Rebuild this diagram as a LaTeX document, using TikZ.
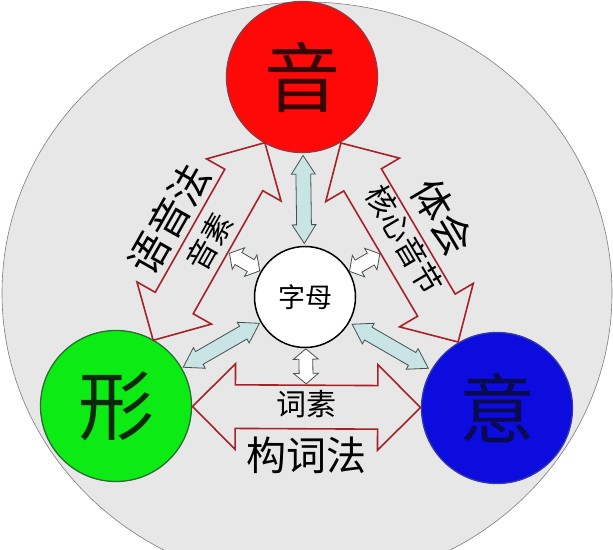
\documentclass[tikz,border=0pt]{standalone}
\usepackage{fontspec}
\setmainfont{Noto Sans CJK SC}
\usetikzlibrary{shapes.arrows,calc}

\definecolor{bgray}{RGB}{231,231,231}
\definecolor{rimgray}{RGB}{125,125,125}
\definecolor{yinred}{RGB}{255,8,8}
\definecolor{yinrim}{RGB}{150,55,65}
\definecolor{yintext}{RGB}{55,5,5}
\definecolor{xinggreen}{RGB}{12,236,20}
\definecolor{xingrim}{RGB}{40,110,50}
\definecolor{xingtext}{RGB}{10,40,10}
\definecolor{yiblue}{RGB}{12,12,222}
\definecolor{yirim}{RGB}{55,55,165}
\definecolor{yitext}{RGB}{10,10,80}
\definecolor{arrred}{RGB}{165,35,40}
\definecolor{lightcyan}{RGB}{200,228,228}
\definecolor{arrgray}{RGB}{70,80,80}

\begin{document}
\begin{tikzpicture}[x=1pt,y=1pt,
    vertex/.style={circle,minimum size=151pt,inner sep=0pt,line width=1.3pt,font=\fontsize{76}{80}\selectfont},
    hollowarr/.style={double arrow,draw=arrred,line width=1.6pt,fill=bgray,inner sep=0pt,
      text height=21pt,text depth=21pt,double arrow head extend=21pt,double arrow tip angle=90},
    linkarr/.style={double arrow,draw=arrgray,line width=0.8pt,fill=lightcyan,minimum height=88pt,inner sep=0pt,
      text height=7pt,text depth=7pt,double arrow head extend=4.5pt,double arrow tip angle=65},
    pointarr/.style={double arrow,draw=arrgray,line width=0.8pt,fill=white,minimum height=35pt,inner sep=0pt,
      text height=6.5pt,text depth=6.5pt,double arrow head extend=5.5pt,double arrow tip angle=100},
    biglab/.style={font=\fontsize{40}{40}\selectfont,inner sep=0pt},
    smalllab/.style={font=\fontsize{30}{30}\selectfont,inner sep=0pt}]

  \useasboundingbox (0,0) rectangle (613,549);
  \clip (0,0) rectangle (613,549);
  \fill[white] (0,0) rectangle (613,549);
  \draw[fill=bgray,draw=rimgray,line width=0.6pt] (307,256) ellipse [x radius=305,y radius=291];

  % the three corners and the centre
  \node[vertex,fill=yinred,draw=yinrim,text=yintext] (yin) at (302,472) {音};
  \node[vertex,fill=xinggreen,draw=xingrim,text=xingtext] (xing) at (116,143) {形};
  \node[vertex,fill=yiblue,draw=yirim,text=yitext] (yi) at (497,141) {意};
  \node[circle,draw,line width=1.5pt,fill=white,minimum size=101pt,inner sep=0pt,
    font=\fontsize{27}{27}\selectfont] (zimu) at (305,252) {字母};

  % big hollow arrows
  \path (xing) -- node[hollowarr,sloped,minimum height=227pt] (a1) {} (yin);
  \path (yin) -- node[hollowarr,sloped,minimum height=231pt] (a2) {} (yi);
  \path (xing) -- node[hollowarr,sloped,minimum height=228pt] (a3) {} (yi);

  \node[smalllab,rotate=60.5] (ys) at (a1) {音素};
  \node[biglab,rotate=60.5] (yyf) at ($(a1)!46pt!90:(yin)$) {语音法};
  \node[smalllab,rotate=-59.5] (hxyj) at ($(a2)!6pt!90:(yi)$) {核心音节};
  \node[biglab,rotate=-59.5] (th) at ($(a2)!50pt!90:(yi)$) {体会};
  \node[smalllab] (cs) at ($(a3)!3pt!90:(yi)$) {词素};
  \node[biglab] (gcf) at ($(a3)!48pt!-90:(yi)$) {构词法};

  % links from the centre
  \path (zimu) -- node[linkarr,sloped] (l1) {} (yin);
  \path (zimu) -- node[linkarr,sloped] (l2) {} (xing);
  \path (zimu) -- node[linkarr,sloped] (l3) {} (yi);

  \path (zimu) -- node[pointarr,sloped] (p1) {} (a1);
  \path (zimu) -- node[pointarr,sloped] (p2) {} (a2);
  \path (zimu) -- node[pointarr,sloped] (p3) {} (a3);
\end{tikzpicture}
\end{document}
